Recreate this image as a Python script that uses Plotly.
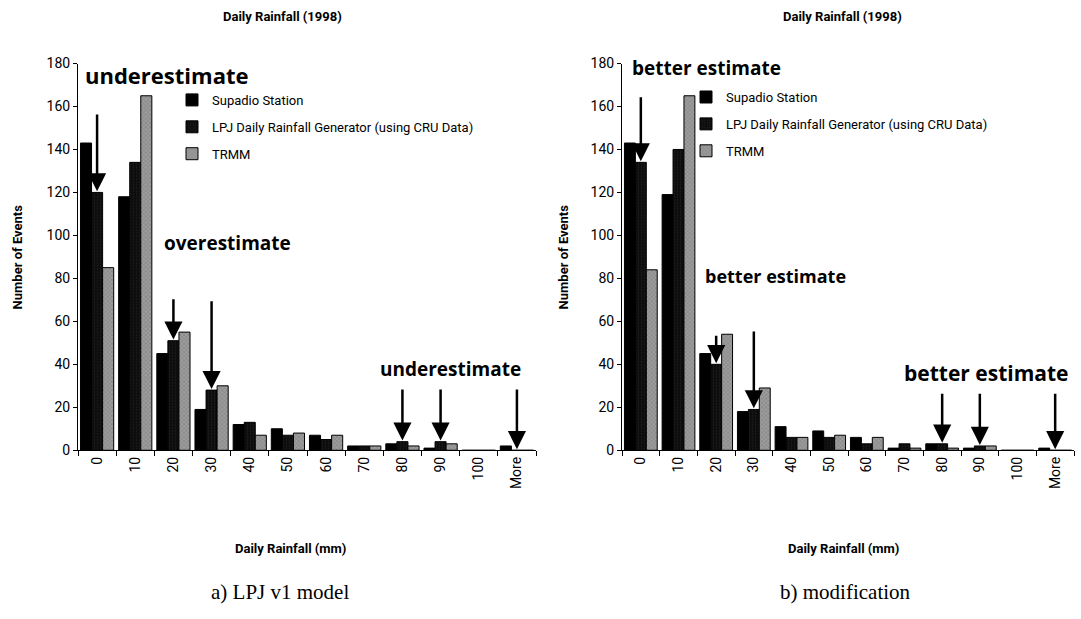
import plotly.graph_objects as go

categories = ["0", "10", "20", "30", "40", "50", "60", "70", "80", "90", "100", "More"]

# a) LPJ v1 model
a_supadio = [143, 118, 45, 19, 12, 10, 7, 2, 3, 1, 0, 2]
a_lpj     = [120, 134, 51, 28, 13, 7, 5, 2, 4, 4, 0, 0]
a_trmm    = [85, 165, 55, 30, 7, 8, 7, 2, 2, 3, 0, 0]

# b) modification
b_supadio = [143, 119, 45, 18, 11, 9, 6, 1, 3, 1, 0, 1]
b_lpj     = [134, 140, 40, 19, 6, 6, 3, 3, 3, 2, 0, 0]
b_trmm    = [84, 165, 54, 29, 6, 7, 6, 1, 1, 2, 0, 0]

series_names = ["Supadio Station", "LPJ Daily Rainfall Generator (using CRU Data)", "TRMM"]
y_ticks = [0, 20, 40, 60, 80, 100, 120, 140, 160, 180]

W, H = 1081, 619
def px(x): return x / W
def py(y): return 1 - y / H

NARROW = "Liberation Sans Narrow, Arial Narrow, Roboto, sans-serif"
BOLDF = "Open Sans, DejaVu Sans, sans-serif"

fig = go.Figure()

styles = [
    dict(color="#000000", pattern=None),
    dict(color="#0d0d0d", pattern=dict(shape=".", fgcolor="#3a3a3a", size=3, solidity=0.15)),
    dict(color="#9c9c9c", pattern=dict(shape="x", fgcolor="#5a5a5a", size=3, solidity=0.3)),
]

for panel, (data, xa, ya, leg) in enumerate([
    ((a_supadio, a_lpj, a_trmm), "x", "y", "legend"),
    ((b_supadio, b_lpj, b_trmm), "x2", "y2", "legend2"),
]):
    for k, (vals, name, st) in enumerate(zip(data, series_names, styles)):
        marker = dict(color=st["color"], line=dict(color="#000000", width=1))
        if st["pattern"]:
            marker["pattern"] = st["pattern"]
        fig.add_trace(go.Bar(
            x=categories, y=vals, name=name, marker=marker,
            xaxis=xa, yaxis=ya, legend=leg, legendgroup=f"{panel}-{k}",
            showlegend=True,
        ))

axis_common_x = dict(
    type="category", showline=True, linecolor="#000", linewidth=1,
    ticks="outside", tickcolor="#000", ticklen=5, tickson="boundaries",
    tickangle=-90, tickfont=dict(family=NARROW, size=14, color="#000"),
    showgrid=False, zeroline=False, fixedrange=True,
)
axis_common_y = dict(
    range=[0, 180], tickvals=y_ticks, showline=True, linecolor="#000", linewidth=1,
    ticks="outside", tickcolor="#000", ticklen=4,
    tickfont=dict(family=NARROW, size=14, color="#000"),
    showgrid=False, zeroline=False,
)

ydom = [py(454), py(57)]
fig.update_layout(
    width=W, height=H, margin=dict(l=0, r=0, t=0, b=0),
    paper_bgcolor="white", plot_bgcolor="white",
    barmode="group", bargap=0.13, bargroupgap=0,
    xaxis=dict(domain=[px(78), px(536)], anchor="y", **axis_common_x),
    yaxis=dict(domain=ydom, anchor="x", **axis_common_y),
    xaxis2=dict(domain=[px(622), px(1074)], anchor="y2", **axis_common_x),
    yaxis2=dict(domain=ydom, anchor="x2", **axis_common_y),
    legend=dict(x=px(172), y=py(79), xanchor="left", yanchor="top",
                font=dict(family=NARROW, size=13, color="#000"),
                tracegroupgap=7, itemwidth=30, bgcolor="rgba(0,0,0,0)"),
    legend2=dict(x=px(686), y=py(76), xanchor="left", yanchor="top",
                 font=dict(family=NARROW, size=13, color="#000"),
                 tracegroupgap=7, itemwidth=30, bgcolor="rgba(0,0,0,0)"),
    showlegend=True,
)

ann = []
def text_ann(cx, cy, txt, font, angle=0):
    ann.append(dict(x=px(cx), y=py(cy), xref="paper", yref="paper", text=txt,
                    xanchor="center", yanchor="middle", textangle=angle,
                    showarrow=False, font=font))

for cx in (282, 842):
    text_ann(cx, 9, "<b>Daily Rainfall (1998)</b>", dict(family=NARROW, size=13, color="#000"))
for cx in (290, 843):
    text_ann(cx, 555, "<b>Daily Rainfall (mm)</b>", dict(family=NARROW, size=13, color="#000"))
for cx in (17, 563):
    text_ann(cx, 256, "<b>Number of Events</b>", dict(family=NARROW, size=13, color="#000"), angle=-90)
for cx, txt in ((280, "a) LPJ v1 model"), (845, "b) modification")):
    text_ann(cx, 600, txt, dict(family="Liberation Serif, Times New Roman, serif", size=21, color="#000"))

# annotation labels (centre x, centre y in pixels, font size)
labels = [
    (166, 69, 22, "underestimate"),
    (227, 241, 19, "overestimate"),
    (450, 371, 19, "underestimate"),
    (706, 62, 19, "better estimate"),
    (775, 275, 18, "better estimate"),
    (986, 375, 21, "better estimate"),
]
for cx, cy, fs, txt in labels:
    text_ann(cx, cy, f"<b>{txt}</b>", dict(family=BOLDF, size=fs, color="#000"))

# arrows: (category index, tail height in data units)
arrow_specs_a = [(0, 157), (2, 71), (3, 70), (8, 29), (9, 29), (11, 29)]
arrow_specs_b = [(0, 165), (2, 54), (3, 56), (8, 27), (9, 27), (11, 27)]
for (xa, ya, lpj, specs) in (("x", "y", a_lpj, arrow_specs_a), ("x2", "y2", b_lpj, arrow_specs_b)):
    for idx, tail in specs:
        tip = lpj[idx] + 0.5
        ann.append(dict(x=idx, y=tip, ax=idx, ay=tail, xref=xa, yref=ya, axref=xa, ayref=ya,
                        text="", showarrow=True, arrowhead=2, arrowsize=1.45, arrowwidth=2.5,
                        arrowcolor="#000"))

fig.update_layout(annotations=ann)
fig.write_html("out.html")
